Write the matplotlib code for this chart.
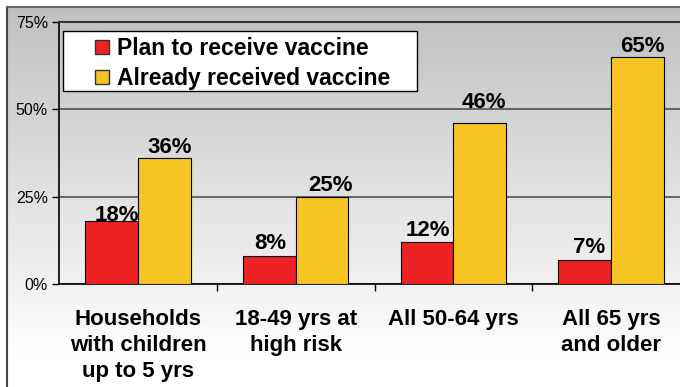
import matplotlib
matplotlib.use('Agg')
import matplotlib.pyplot as plt
import numpy as np
from matplotlib.patches import Rectangle, Patch

categories = ["Households\nwith children\nup to 5 yrs", "18-49 yrs at\nhigh risk",
              "All 50-64 yrs", "All 65 yrs\nand older"]
plan = [18, 8, 12, 7]
already = [36, 25, 46, 65]
series_names = ["Plan to receive vaccine", "Already received vaccine"]
yticks = [0, 25, 50, 75]
colors = ["#EE2222", "#F5C623"]

# manual label nudges (pixels), as placed in the original slide
plan_label_dx = [5.5, 1, 1, 4]
plan_label_dy = [0, 7, 6, 7]
already_label_dx = [5.5, 8, 4, 4.5]
already_label_dy = [5.5, 5.5, 15, 5]

plt.rcParams['font.family'] = ['Liberation Sans', 'DejaVu Sans']

W, H = 680, 387
fig = plt.figure(figsize=(6.8, 3.87), dpi=100)
fig.patch.set_facecolor('white')

# background gradient panel
bg = fig.add_axes([0, 0, 1, 1], zorder=-10)
rows = np.arange(7, H)
vals = np.clip(192 + (255 - 192) * (rows - 7) / 353.0, 0, 255) / 255.0
img = np.repeat(vals[:, None], 2, axis=1)
img = np.stack([img, img, img], axis=-1)
bg.imshow(img, extent=[7, W + 5, H, 7], aspect='auto', interpolation='bilinear')
bg.plot([7, 7], [7, H], color='#444444', lw=1.5)
bg.plot([7, W], [7, 7], color='#666666', lw=1.5)
bg.set_xlim(0, W)
bg.set_ylim(H, 0)
bg.axis('off')

# main axes
ax = fig.add_axes([59 / W, (H - 284) / H, (690 - 59) / W, (284 - 22) / H])
ax.patch.set_alpha(0)
x = np.arange(len(categories))
w = 0.335
ax.bar(x - w / 2, plan, w, color=colors[0], edgecolor='black', lw=0.8, zorder=3)
ax.bar(x + w / 2, already, w, color=colors[1], edgecolor='black', lw=0.8, zorder=3)
ax.set_xlim(-0.5, len(categories) - 0.5)
ax.set_ylim(0, 75)
ax.set_yticks(yticks)
ax.set_yticklabels([f"{v}%" for v in yticks], fontsize=11.5)
ax.yaxis.grid(True, color='#505050', lw=1.2, zorder=1)
ax.set_axisbelow(True)
ax.tick_params(axis='y', length=5, width=1, pad=3, direction='out')

ax.set_xticks(x[:-1] + 0.5)
ax.set_xticklabels([])
ax.tick_params(axis='x', which='major', length=5, width=1, direction='out')
ax.set_xticks(x, minor=True)
ax.set_xticklabels(categories, minor=True, fontsize=16, fontweight='bold', linespacing=1.3)
ax.tick_params(axis='x', which='minor', length=0, pad=18)

for s in ['left', 'bottom']:
    ax.spines[s].set_color('black')
    ax.spines[s].set_linewidth(1.2)
ax.spines['top'].set_color('#333333')
ax.spines['top'].set_linewidth(1.5)
ax.spines['right'].set_visible(False)

for xi, v, dx, dy in zip(x - w / 2, plan, plan_label_dx, plan_label_dy):
    ax.annotate(f"{v}%", (xi, v), xytext=(dx, dy), textcoords='offset pixels',
                ha='center', va='baseline', fontsize=16, fontweight='bold', zorder=4)
for xi, v, dx, dy in zip(x + w / 2, already, already_label_dx, already_label_dy):
    ax.annotate(f"{v}%", (xi, v), xytext=(dx, dy), textcoords='offset pixels',
                ha='center', va='baseline', fontsize=16, fontweight='bold', zorder=4)

# legend box
box = Rectangle((63 / W, 1 - 91 / H), (417 - 63) / W, 60 / H, transform=fig.transFigure,
                facecolor='white', edgecolor='black', lw=1.0, zorder=5)
fig.add_artist(box)
handles = [Patch(facecolor=c, edgecolor='#333333', lw=1.0) for c in colors]
leg = fig.legend(handles, series_names, loc='upper left',
                 bbox_to_anchor=(95 / W, 1 - 37 / H), frameon=False,
                 prop={'size': 16.5, 'weight': 'bold'}, handlelength=0.6, handleheight=0.6,
                 handletextpad=0.35, labelspacing=0.3, borderpad=0, borderaxespad=0)
leg.set_zorder(6)

fig.savefig('out.png', dpi=100)
